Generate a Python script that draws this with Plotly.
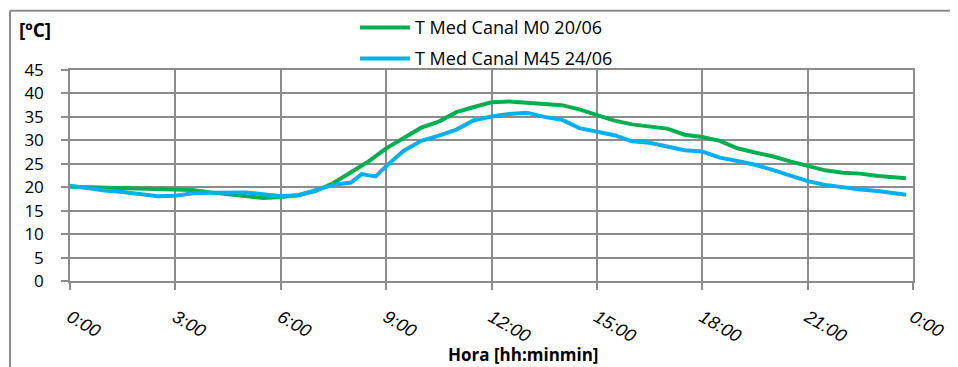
import plotly.graph_objects as go

# Time in hours since 0:00
hours_m0 = [0.0, 0.5, 1.0, 1.5, 2.0, 2.5, 3.0, 3.5, 4.0, 4.5, 5.0, 5.5, 6.0, 6.5, 7.0, 7.5,
            8.0, 8.5, 9.0, 9.5, 10.0, 10.5, 11.0, 11.5, 12.0, 12.5, 13.0, 13.5, 14.0, 14.5,
            15.0, 15.5, 16.0, 16.5, 17.0, 17.5, 18.0, 18.5, 19.0, 19.5, 20.0, 20.5, 21.0,
            21.5, 22.0, 22.5, 23.0, 23.5, 23.8]
temp_m0 = [20.1, 20.0, 19.9, 19.8, 19.6, 19.5, 19.6, 19.4, 18.9, 18.5, 18.2, 17.7, 17.9, 18.3,
           19.2, 20.9, 23.2, 25.5, 28.3, 30.6, 32.7, 34.0, 36.0, 37.1, 38.1, 38.3, 38.0, 37.6,
           37.5, 36.6, 35.3, 34.2, 33.4, 32.9, 32.5, 31.2, 30.7, 29.9, 28.3, 27.4, 26.6, 25.5,
           24.5, 23.6, 23.1, 22.9, 22.4, 22.0, 21.9]

hours_m45 = [0.0, 0.5, 1.0, 1.5, 2.0, 2.5, 3.0, 3.5, 4.0, 4.5, 5.0, 5.5, 6.0, 6.5, 7.0, 7.5,
             8.0, 8.3, 8.7, 9.0, 9.5, 10.0, 10.5, 11.0, 11.5, 12.0, 12.5, 13.0, 13.5, 14.0,
             14.5, 15.0, 15.5, 16.0, 16.5, 17.0, 17.5, 18.0, 18.5, 19.0, 19.5, 20.0, 20.5,
             21.0, 21.5, 22.0, 22.5, 23.0, 23.5, 23.8]
temp_m45 = [20.3, 19.7, 19.3, 19.0, 18.6, 18.1, 18.2, 18.7, 18.8, 18.9, 18.9, 18.5, 18.1, 18.3,
            19.4, 20.5, 21.0, 22.8, 22.3, 24.5, 27.8, 29.9, 31.0, 32.3, 34.3, 35.1, 35.6, 35.9,
            35.0, 34.4, 32.6, 31.8, 31.1, 29.8, 29.5, 28.7, 27.9, 27.6, 26.3, 25.6, 24.8, 23.7,
            22.4, 21.3, 20.5, 19.9, 19.5, 19.2, 18.8, 18.4]

series_names = ["T Med Canal M0 20/06", "T Med Canal M45 24/06"]
tick_hours = [0, 3, 6, 9, 12, 15, 18, 21, 24]
tick_labels = ["0:00", "3:00", "6:00", "9:00", "12:00", "15:00", "18:00", "21:00", "0:00"]
y_ticks = [0, 5, 10, 15, 20, 25, 30, 35, 40, 45]

GREEN = "#00B050"
BLUE = "#00B0F0"
GRID = "#8C8C8C"

fig = go.Figure()
fig.add_trace(go.Scatter(x=hours_m0, y=temp_m0, mode="lines", name=series_names[0],
                         line=dict(color=GREEN, width=4), legend="legend"))
fig.add_trace(go.Scatter(x=hours_m45, y=temp_m45, mode="lines", name=series_names[1],
                         line=dict(color=BLUE, width=4), legend="legend2"))

OFF = 8  # page body margin
W, H = 958 - OFF, 367 - OFF
# target plot area in screen pixels: x 70..913, y 70.3..281.5
L = 70 - OFF
T = 70.3 - OFF
R = W - (913 - OFF)
B = H - (281.5 - OFF)
pw, ph = W - L - R, H - T - B

def px(x):  # screen px -> paper x
    return (x - OFF - L) / pw

def py(y):  # screen px -> paper y
    return (H - B - (y - OFF)) / ph

legfont = dict(family="Open Sans", size=18, color="#000000")
fig.update_layout(
    width=W, height=H,
    margin=dict(l=L, r=R, t=T, b=B, autoexpand=False),
    plot_bgcolor="white", paper_bgcolor="white",
    showlegend=True,
    font=dict(family="Open Sans", color="#000000"),
    legend=dict(x=px(355), y=py(28), xanchor="left", yanchor="middle",
                font=legfont, bgcolor="rgba(0,0,0,0)", itemwidth=50),
    legend2=dict(x=px(355), y=py(59), xanchor="left", yanchor="middle",
                 font=legfont, bgcolor="rgba(0,0,0,0)", itemwidth=50),
    xaxis=dict(range=[0, 24], tickvals=tick_hours, ticktext=tick_labels,
               tickangle=30, showgrid=True, gridcolor=GRID, gridwidth=1.5,
               showline=True, linecolor=GRID, linewidth=1.5, mirror=True,
               ticks="outside", ticklen=7, tickcolor=GRID, tickwidth=1.5,
               tickfont=dict(family="Liberation Sans", size=18, style="italic"),
               ticklabelstandoff=10, zeroline=False),
    yaxis=dict(range=[0, 45], tickvals=y_ticks, showgrid=True, gridcolor=GRID,
               gridwidth=1.5, showline=True, linecolor=GRID, linewidth=1.5, mirror=True,
               ticks="outside", ticklen=7, tickcolor=GRID, tickwidth=1.5,
               tickfont=dict(family="Open Sans", size=17),
               ticklabelstandoff=14, zeroline=False),
    shapes=[
        dict(type="line", xref="paper", yref="paper", x0=px(10), x1=px(960),
             y0=py(11), y1=py(11), line=dict(color=GRID, width=2)),
        dict(type="line", xref="paper", yref="paper", x0=px(10), x1=px(10),
             y0=py(11), y1=py(370), line=dict(color=GRID, width=2)),
    ],
    annotations=[
        dict(text="<b>[ºC]</b>", xref="paper", yref="paper", x=px(17), y=py(30),
             xanchor="left", yanchor="middle", showarrow=False,
             font=dict(family="Open Sans", size=19)),
        dict(text="<b>Hora [hh:minmin]</b>", xref="paper", yref="paper", x=px(523),
             y=py(355), xanchor="center", yanchor="middle", showarrow=False,
             font=dict(family="Open Sans", size=17)),
    ],
)

fig.write_html("out.html")
